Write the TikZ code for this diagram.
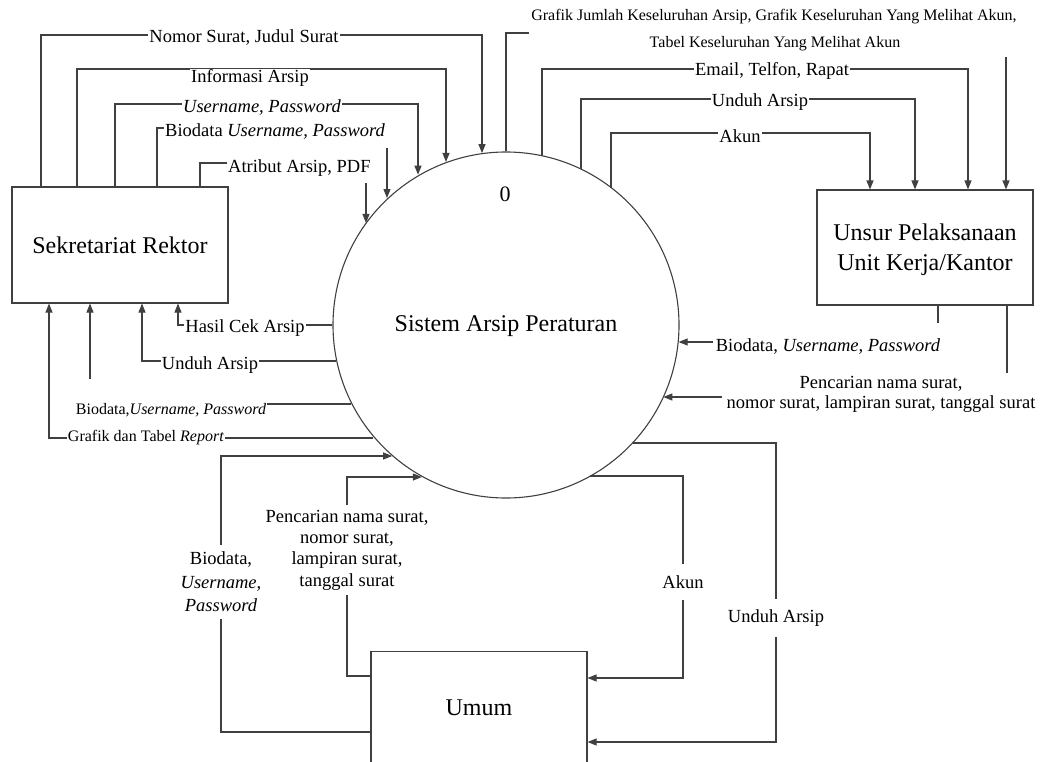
\documentclass[tikz,border=0pt]{standalone}
\usepackage{fontspec}
\setmainfont{Liberation Serif}
\usetikzlibrary{arrows.meta}
\definecolor{linegray}{RGB}{64,64,64}

\begin{document}
\begin{tikzpicture}[x=1bp,y=-1bp,
  flow/.style={draw=linegray, line width=1.1bp},
  arr/.style={flow, -{Triangle[length=9bp,width=7bp]}},
  lbl/.style={font=\fontsize{18.5bp}{21.5bp}\selectfont, fill=white, inner xsep=1bp, inner ysep=1bp, align=center},
  slbl/.style={font=\fontsize{16bp}{19bp}\selectfont, fill=white, inner xsep=1bp, inner ysep=1bp, align=center},
  entity/.style={draw=linegray, line width=1.1bp, font=\fontsize{24bp}{29bp}\selectfont, align=center, inner sep=0pt},
  bigtext/.style={font=\fontsize{24bp}{29bp}\selectfont, align=center},
]
\useasboundingbox (0,0) rectangle (1046,762);

% external entities and the process
\node[entity, minimum width=216bp, minimum height=116bp] (sek) at (120,245) {Sekretariat Rektor};
\node[entity, minimum width=216bp, minimum height=115bp] (un) at (925,247.5) {};
\node[bigtext] (untxt) at (925,250) {Unsur Pelaksanaan\\[1bp]Unit Kerja/Kantor};
\node[entity, minimum width=216bp, minimum height=140bp, anchor=north] (umum) at (479,651) {};
\node[bigtext] (umumtxt) at (479,708) {Umum};
\node[draw=linegray, line width=1.1bp, circle, minimum size=346bp, inner sep=0pt] (sys) at (506,325) {};
\node[bigtext] (systxt) at (506,326) {Sistem Arsip Peraturan};
\node[font=\fontsize{22bp}{26bp}\selectfont] (sysno) at (505,194) {0};

% Sekretariat Rektor -> process (top)
\draw[arr] (41,0 |- sek.north) |- (482,35) -- (482,0 |- sys.98);
\node[lbl] (l1) at (244,38) {Nomor Surat, Judul Surat};
\draw[arr] (77,0 |- sek.north) |- (446,69) -- (446,0 |- sys.110.29);
\node[lbl] (l2) at (250,78) {Informasi Arsip};
\draw[arr] (115,0 |- sek.north) |- (418,104) -- (418,0 |- sys.120.58);
\node[lbl] (l3) at (262,108) {\textit{Username, Password}};
\node[lbl, anchor=west] (l4) at (164,132) {Biodata \textit{Username, Password}};
\draw[flow] (157,0 |- sek.north) |- (l4.west |- 0,128);
\coordinate (b4) at (387,148);
\draw[arr] (b4) -- (387,0 |- sys.133.46);
\node[lbl, anchor=west] (l5) at (227,168) {Atribut Arsip, PDF};
\draw[flow] (200,0 |- sek.north) |- (l5.west |- 0,163);
\coordinate (b5) at (366,183);
\draw[arr] (b5) -- (366,0 |- sys.144.02);

% process -> Unsur Pelaksanaan (top)
\draw[flow] (sys.90) |- (529,33);
\node[slbl, fill=none] (g1) at (774,17) {Grafik Jumlah Keseluruhan Arsip, Grafik Keseluruhan Yang Melihat Akun,};
\node[slbl, fill=none] (g2) at (775,44) {Tabel Keseluruhan Yang Melihat Akun};
\coordinate (b6) at (1006,57);
\draw[arr] (b6) -- (1006,0 |- un.north);
\draw[arr] (542,0 |- sys.77.99) |- (968,69) -- (968,0 |- un.north);
\node[lbl] (l7) at (772,71) {Email, Telfon, Rapat};
\draw[arr] (581,0 |- sys.64.31) |- (915,99) -- (915,0 |- un.north);
\node[lbl] (l8) at (760,102) {Unduh Arsip};
\draw[arr] (611,0 |- sys.52.63) |- (870,133) -- (870,0 |- un.north);
\node[lbl] (l9) at (740,136) {Akun};

% Unsur Pelaksanaan -> process (right)
\draw[flow] (938,0 |- un.south) -- (938,323);
\node[lbl, fill=none] (l10) at (828,347) {Biodata, \textit{Username, Password}};
\coordinate (b10) at (713,342);
\draw[arr] (b10) -- (sys.354.36 |- 0,342);
\draw[flow] (1007,0 |- un.south) -- (1007,373);
\node[lbl, fill=none, font=\fontsize{18.5bp}{20bp}\selectfont] (l11) at (881,394) {Pencarian nama surat,\\nomor surat, lampiran surat, tanggal surat};
\coordinate (b11) at (722,397);
\draw[arr] (b11) -- (sys.335.41 |- 0,397);

% process -> Sekretariat Rektor (left)
\draw[arr] (sys.180) -| (178,0 |- sek.south);
\node[lbl] (l12) at (245,328) {Hasil Cek Arsip};
\draw[arr] (sys.192.01 |- 0,361) -| (142,0 |- sek.south);
\node[lbl] (l13) at (210,365) {Unduh Arsip};
\node[slbl, fill=none] (l14) at (171,410) {Biodata,\textit{Username, Password}};
\draw[flow] (sys.207.17 |- 0,404) -- (l14.east |- 0,404);
\coordinate (b14) at (90,379);
\draw[arr] (b14) -- (90,0 |- sek.south);
\draw[arr] (sys.220.78 |- 0,438) -| (49,0 |- sek.south);
\node[slbl] (l15) at (146,438) {Grafik dan Tabel \textit{Report}};

% Umum <-> process (bottom)
\draw[arr] (umum.west |- 0,732) -| (221,456) -- (sys.229.22 |- 0,456);
\node[lbl, inner ysep=7bp, font=\fontsize{18.5bp}{23.5bp}\selectfont] (l16) at (221,582) {Biodata,\\\textit{Username,}\\\textit{Password}};
\draw[arr] (umum.west |- 0,676) -| (347,477) -- (sys.241.47 |- 0,477);
\node[lbl, inner ysep=5bp, font=\fontsize{18.5bp}{21.3bp}\selectfont] (l17) at (347,550) {Pencarian nama surat,\\nomor surat,\\lampiran surat,\\tanggal surat};
\draw[arr] (sys.299.21 |- 0,476) -| (683,678) -- (umum.east |- 0,678);
\node[lbl, inner ysep=11bp] (l18) at (683,582) {Akun};
\draw[arr] (sys.317 |- 0,443) -| (776,742) -- (umum.east |- 0,742);
\node[lbl, inner ysep=11bp] (l19) at (776,618) {Unduh Arsip};

\end{tikzpicture}
\end{document}
